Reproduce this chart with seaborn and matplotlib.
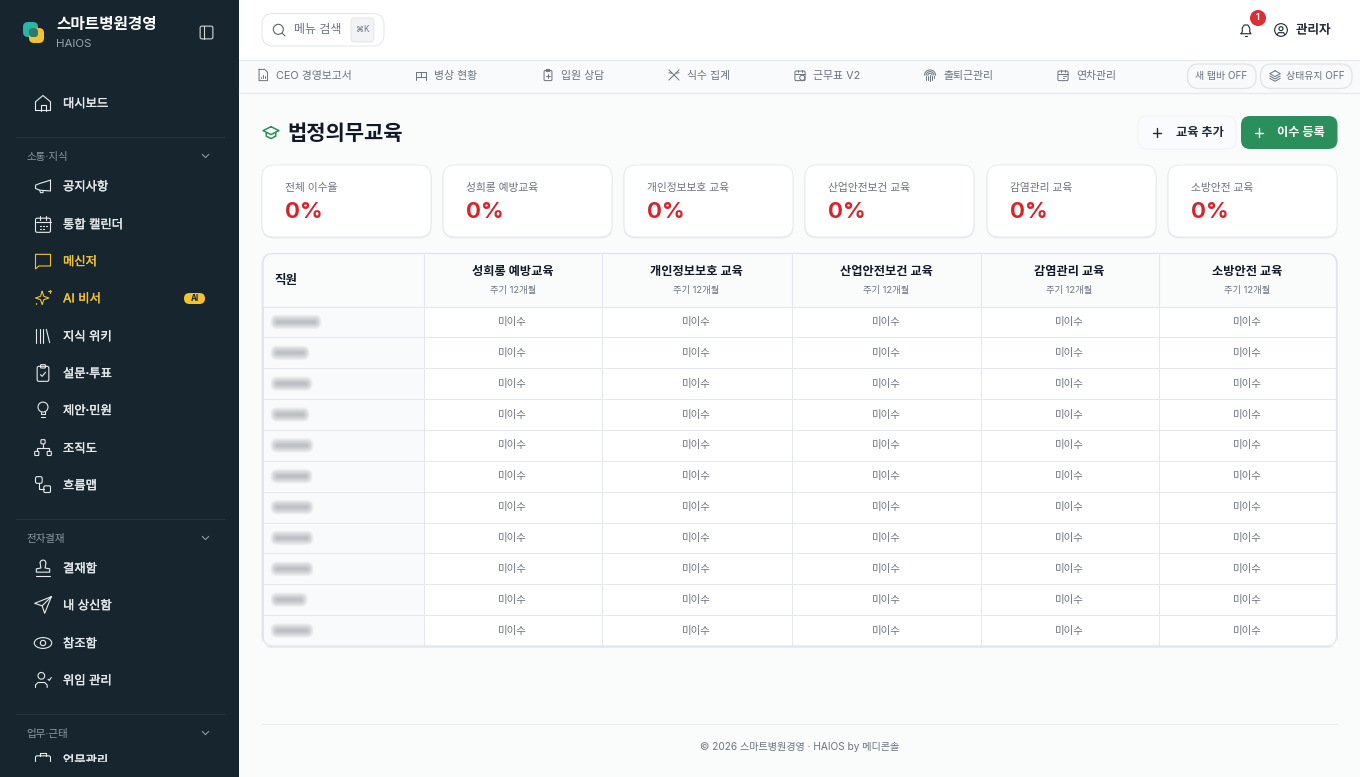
import numpy as np
import matplotlib
matplotlib.use('Agg')
import matplotlib.pyplot as plt
import matplotlib.patheffects as pe
from matplotlib.colors import ListedColormap
from matplotlib.patches import FancyBboxPatch, Rectangle, Circle, Ellipse, Arc
import seaborn as sns

sns.set_theme(style='white')
plt.rcParams['font.family'] = ['Inter', 'Noto Sans CJK KR', 'DejaVu Sans']

# ---- данные экрана ----
brand = '스마트병원경영'
brand_sub = 'HAIOS'
menu_top = ['대시보드']
menu_sections = ['소통·지식', '전자결재', '업무·근태']
menu_talk = ['공지사항', '통합 캘린더', '메신저', 'AI 비서', '지식 위키', '설문·투표', '제안·민원', '조직도', '흐름맵']
menu_sign = ['결재함', '내 상신함', '참조함', '위임 관리']
menu_work = ['업무관리']
tabs = ['CEO 경영보고서', '병상 현황', '입원 상담', '식수 집계', '근무표 V2', '출퇴근관리', '연차관리']
page_title = '법정의무교육'
card_labels = ['전체 이수율', '성희롱 예방교육', '개인정보보호 교육', '산업안전보건 교육', '감염관리 교육', '소방안전 교육']
card_rates = [0, 0, 0, 0, 0, 0]
course_names = ['성희롱 예방교육', '개인정보보호 교육', '산업안전보건 교육', '감염관리 교육', '소방안전 교육']
course_cycle = [12, 12, 12, 12, 12]
# статус по строкам, 0 = 미이수
course_status = [
    [0, 0, 0, 0, 0, 0, 0, 0, 0, 0, 0],
    [0, 0, 0, 0, 0, 0, 0, 0, 0, 0, 0],
    [0, 0, 0, 0, 0, 0, 0, 0, 0, 0, 0],
    [0, 0, 0, 0, 0, 0, 0, 0, 0, 0, 0],
    [0, 0, 0, 0, 0, 0, 0, 0, 0, 0, 0],
]
status_text = '미이수'
name_blur = [42, 30, 33, 30, 34, 33, 34, 34, 34, 28, 34]  # размытые имена, ширина

SIDE = '#17252e'
BG = '#fafbfb'
LINE = '#e4e8ec'
GREEN = '#2a8f5a'
RED = '#d4252c'
GRAY = '#6b7280'
YEL = '#f2c230'
ITEM = '#e6eaec'

fig = plt.figure(figsize=(13.6, 7.77), dpi=100, facecolor=BG)
ax = fig.add_axes([0, 0, 1, 1])
ax.set_xlim(0, 1360)
ax.set_ylim(777, 0)
ax.axis('off')


def px(v):
    return v * 0.72


def txt(a, x, y, s, size, color='#111827', weight='normal', ha='left', z=10, thick=0):
    t = a.text(x, y, s, fontsize=px(size), color=color, weight=weight, ha=ha, va='center', zorder=z)
    if thick:
        t.set_path_effects([pe.withStroke(linewidth=thick, foreground=color)])
    return t


def box(a, x0, y0, x1, y1, r, fc, ec='none', lw=0.7, z=3, alpha=None):
    p = FancyBboxPatch((x0, y0), x1 - x0, y1 - y0, boxstyle=f'round,pad=0,rounding_size={r}',
                       fc=fc, ec=ec, lw=lw, zorder=z, alpha=alpha)
    a.add_patch(p)
    return p


def icon(a, cx, cy, parts, color, size=20, lw=0.8, z=9):
    k = size / 24
    X = lambda v: cx + (v - 12) * k
    Y = lambda v: cy + (v - 12) * k
    for p in parts:
        if p[0] == 'l':
            a.plot([X(q[0]) for q in p[1]], [Y(q[1]) for q in p[1]], color=color, lw=lw, zorder=z,
                   solid_capstyle='round', solid_joinstyle='round')
        elif p[0] == 'c':
            a.add_patch(Circle((X(p[1]), Y(p[2])), p[3] * k, fc='none', ec=color, lw=lw, zorder=z))
        elif p[0] == 'r':
            box(a, X(p[1]), Y(p[2]), X(p[1] + p[3]), Y(p[2] + p[4]), p[5] * k, 'none', color, lw, z)
        elif p[0] == 'e':
            a.add_patch(Ellipse((X(p[1]), Y(p[2])), p[3] * k, p[4] * k, fc='none', ec=color, lw=lw, zorder=z))
        elif p[0] == 'a':
            a.add_patch(Arc((X(p[1]), Y(p[2])), 2 * p[3] * k, 2 * p[3] * k, theta1=p[4], theta2=p[5],
                            color=color, lw=lw, zorder=z))


ICONS = {
    'home': [('l', [(3, 10.5), (12, 3), (21, 10.5), (21, 21), (3, 21), (3, 10.5)]), ('l', [(9, 21), (9, 14), (15, 14), (15, 21)])],
    'mega': [('l', [(21, 5), (21, 18), (8, 17), (3, 15), (3, 11), (8, 9), (21, 5)]), ('l', [(8, 17), (9, 20), (12, 20), (12, 17.5)])],
    'cal': [('r', 3, 5, 18, 17, 2), ('l', [(3, 10), (21, 10)]), ('l', [(8, 2.5), (8, 7)]), ('l', [(16, 2.5), (16, 7)]), ('l', [(8, 14), (9, 14)]), ('l', [(12, 14), (13, 14)]), ('l', [(16, 14), (17, 14)]), ('l', [(8, 18), (9, 18)]), ('l', [(12, 18), (13, 18)])],
    'chat': [('l', [(3, 4), (21, 4), (21, 18), (7, 18), (3, 21.5), (3, 4)])],
    'star': [('l', [(11, 4), (13, 10), (19, 12), (13, 14), (11, 20), (9, 14), (3, 12), (9, 10), (11, 4)]), ('l', [(20, 2), (20, 6)]), ('l', [(18, 4), (22, 4)]), ('l', [(4, 18), (4, 19)])],
    'books': [('l', [(4, 4), (4, 20)]), ('l', [(8, 4), (8, 20)]), ('l', [(12, 4), (12, 20)]), ('l', [(16, 4), (20, 20)])],
    'clip': [('r', 5, 4, 14, 18, 2), ('r', 9, 2, 6, 4, 1), ('l', [(9, 14), (11, 16), (15, 11)])],
    'bulb': [('c', 12, 8.5, 6), ('l', [(9.5, 14), (9.5, 17), (14.5, 17), (14.5, 14)]), ('l', [(10, 20.5), (14, 20.5)])],
    'org': [('r', 9.5, 2, 5, 5, 1), ('r', 2, 16, 5, 5, 1), ('r', 17, 16, 5, 5, 1), ('l', [(12, 7), (12, 12)]), ('l', [(4.5, 16), (4.5, 12), (19.5, 12), (19.5, 16)])],
    'flow': [('r', 3, 2, 8, 8, 2), ('r', 13, 13, 8, 8, 1.5), ('l', [(7, 10), (7, 17), (13, 17)])],
    'stamp': [('a', 12, 6, 3.5, 180, 360), ('l', [(8.5, 6), (9.5, 12), (4, 13), (4, 17), (20, 17), (20, 13), (14.5, 12), (15.5, 6)]), ('l', [(4, 21), (20, 21)])],
    'send': [('l', [(22, 2), (2, 10), (11, 13), (14, 22), (22, 2)]), ('l', [(11, 13), (22, 2)])],
    'eye': [('e', 12, 12, 21, 13), ('c', 12, 12, 3.2)],
    'ucheck': [('c', 10, 7, 4), ('l', [(3, 21), (3, 18), (6, 15), (14, 15), (17, 18), (17, 21)]), ('l', [(18, 11), (19.5, 12.5), (22, 9)])],
    'case': [('r', 3, 7, 18, 14, 2), ('l', [(8, 7), (8, 4), (16, 4), (16, 7)])],
    'chev': [('l', [(6, 9), (12, 15), (18, 9)])],
    'panel': [('r', 3, 3, 18, 18, 2.5), ('l', [(9, 3), (9, 21)])],
    'search': [('c', 11, 11, 7.5), ('l', [(17, 17), (21, 21)])],
    'bell': [('l', [(4, 18), (6, 15), (6, 9), (9, 4), (15, 4), (18, 9), (18, 15), (20, 18), (4, 18)]), ('l', [(10, 21.5), (14, 21.5)])],
    'user': [('c', 12, 12, 9.5), ('c', 12, 10, 3), ('l', [(6.5, 19), (8, 16), (16, 16), (17.5, 19)])],
    'doc': [('l', [(5, 2), (15, 2), (20, 7), (20, 22), (5, 22), (5, 2)]), ('l', [(9, 18), (9, 15)]), ('l', [(12, 18), (12, 12)]), ('l', [(15, 18), (15, 14)])],
    'bed': [('l', [(3, 20), (3, 6), (21, 6), (21, 20)]), ('l', [(3, 15), (21, 15)]), ('l', [(12, 6), (12, 15)])],
    'cplus': [('r', 5, 4, 14, 18, 2), ('r', 9, 2, 6, 4, 1), ('l', [(9, 14), (15, 14)]), ('l', [(12, 11), (12, 17)])],
    'food': [('l', [(3, 3), (21, 21)]), ('l', [(21, 3), (3, 21)]), ('l', [(15, 9), (21, 8)]), ('l', [(3, 8), (9, 9)])],
    'calc': [('r', 3, 5, 18, 17, 2), ('l', [(3, 10), (21, 10)]), ('l', [(8, 2.5), (8, 7)]), ('l', [(16, 2.5), (16, 7)]), ('c', 16, 17, 4.5)],
    'finger': [('a', 12, 13, 10, 180, 360), ('a', 12, 13, 7, 180, 360), ('a', 12, 13, 4, 180, 360), ('l', [(5, 13), (5, 20)]), ('l', [(8, 13), (8, 21)]), ('l', [(12, 12), (12, 22)]), ('l', [(16, 13), (16, 21)]), ('l', [(19, 13), (19, 18)])],
    'layers': [('l', [(12, 3), (21, 8), (12, 13), (3, 8), (12, 3)]), ('l', [(3, 12), (12, 17), (21, 12)]), ('l', [(3, 16), (12, 21), (21, 16)])],
    'cap': [('l', [(12, 4), (22, 9), (12, 14), (2, 9), (12, 4)]), ('l', [(6, 11.5), (6, 16), (12, 19), (18, 16), (18, 11.5)])],
    'plus': [('l', [(5, 12), (19, 12)]), ('l', [(12, 5), (12, 19)])],
}

# ---- фон и сайдбар ----
ax.add_patch(Rectangle((0, 0), 239, 777, fc=SIDE, ec='none', zorder=1))
ax.add_patch(Rectangle((239, 0), 1121, 59.5, fc='white', ec='none', zorder=1))
ax.add_patch(Rectangle((239, 59.5), 1121, 34, fc='#f8fafb', ec='none', zorder=1))
ax.plot([239, 1360], [59.5, 59.5], color=LINE, lw=0.8, zorder=2)
ax.plot([239, 1360], [93, 93], color='#e6eaee', lw=1, zorder=2)

box(ax, 23, 22, 38, 37, 5, '#2bb5a6', z=3)
box(ax, 29, 28, 44, 43, 5, YEL, z=4)
box(ax, 29, 28, 38, 37, 3.5, '#2c7a70', z=5)
txt(ax, 56, 25, brand, 15.7, 'white', 'bold')
txt(ax, 56, 44, brand_sub, 11.5, '#98a6ad')
icon(ax, 206.5, 32.5, ICONS['panel'], '#cfd6da', size=17)

talk_y = [186, 224, 261, 298, 336, 373, 410, 448, 485]
sign_y = [568, 605, 643, 680]
talk_icons = ['mega', 'cal', 'chat', 'star', 'books', 'clip', 'bulb', 'org', 'flow']
sign_icons = ['stamp', 'send', 'eye', 'ucheck']

icon(ax, 43, 103, ICONS['home'], ITEM)
txt(ax, 63, 104.3, menu_top[0], 12.3, ITEM, thick=0.25)
for lab, y, ic in zip(menu_talk + menu_sign + menu_work, talk_y + sign_y + [760], talk_icons + sign_icons + ['case']):
    col = YEL if lab in ('메신저', 'AI 비서') else ITEM
    icon(ax, 43, y, ICONS[ic], col)
    txt(ax, 63, y + 1.3, lab, 12.3, col, thick=0.25)
box(ax, 184, 293, 205, 304, 5.5, YEL, z=6)
txt(ax, 194.5, 298.5, 'AI', 8, SIDE, 'bold', ha='center')

for lab, y, sep in zip(menu_sections, [156, 538, 733], [137, 519, 714]):
    ax.plot([16, 224], [sep, sep], color='#26353e', lw=0.8, zorder=2)
    txt(ax, 26, y + 0.7, lab, 10.5, '#8d9aa1')
    icon(ax, 205.5, y, ICONS['chev'], '#8d9aa1', size=13)
ax.add_patch(Rectangle((0, 762), 239, 15, fc=SIDE, ec='none', zorder=12))

# ---- верхняя панель ----
box(ax, 262, 13.5, 384, 46, 11, 'white', '#e1e5ea')
icon(ax, 279, 30, ICONS['search'], '#5b6470', size=16)
txt(ax, 294, 30.5, '메뉴 검색', 12, GRAY)
box(ax, 351, 18, 374, 42, 4, '#f1f3f6', '#e1e5ea', z=4)
txt(ax, 362.5, 30, '⌘K', 8, GRAY, ha='center')
icon(ax, 1246, 30, ICONS['bell'], '#1f2937', size=15)
ax.add_patch(Circle((1258, 18), 8, fc='#dc2e34', ec='none', zorder=11))
txt(ax, 1258, 18, '1', 9, 'white', 'bold', ha='center', z=12)
icon(ax, 1281, 30, ICONS['user'], '#1f2937', size=16)
txt(ax, 1296, 30.5, '관리자', 12.5, '#1f2937', thick=0.2)

# ---- вкладки ----
tab_x = [276, 434, 561, 687, 813, 943, 1076]
tab_icons = ['doc', 'bed', 'cplus', 'food', 'calc', 'finger', 'cal']
for lab, x, ic in zip(tabs, tab_x, tab_icons):
    icon(ax, x - 13, 75, ICONS[ic], '#69717d', size=13.5, lw=0.7)
    txt(ax, x, 75.5, lab, 10.9, GRAY)
box(ax, 1187.5, 64, 1256, 88.5, 11, '#f8fafb', '#dfe4e9', 0.9)
txt(ax, 1221.5, 76.3, '새 탭바 OFF', 10, GRAY, ha='center')
box(ax, 1260.5, 64, 1352, 88.5, 11, '#f8fafb', '#dfe4e9', 0.9)
icon(ax, 1275, 76, ICONS['layers'], '#69717d', size=14, lw=0.7)
txt(ax, 1286, 76.3, '상태유지 OFF', 10, GRAY)

# ---- заголовок и кнопки ----
icon(ax, 271, 133, ICONS['cap'], GREEN, size=19, lw=1.1)
txt(ax, 287.5, 134.5, page_title, 21, '#111827', 'bold')
box(ax, 1138, 116, 1236, 149, 9, '#fafbfc', '#f0f2f4')
icon(ax, 1157, 132.5, ICONS['plus'], '#1f2937', size=15, lw=1)
txt(ax, 1176, 133, '교육 추가', 12.2, '#1f2937', 'bold')
box(ax, 1241, 116, 1337.5, 149, 9, GREEN)
icon(ax, 1259, 132.5, ICONS['plus'], 'white', size=15, lw=1)
txt(ax, 1277, 133, '이수 등록', 12.2, 'white', 'bold')

# ---- карточки ----
card_x = [262, 443, 624, 805, 987, 1168]
for lab, rate, x in zip(card_labels, card_rates, card_x):
    box(ax, x - 0.5, 166, x + 169.5, 238.5, 12, '#e8ecef', z=2)
    box(ax, x, 165, x + 169, 237, 12, 'white', '#e6eaee')
    txt(ax, x + 23, 187.5, lab, 10.8, GRAY)
    txt(ax, x + 23, 211.5, f'{rate}%', 22.3, RED, 'bold')

# ---- таблица ----
col_edges = [263, 424, 601.5, 791.5, 980.5, 1158.5, 1336.5]
tab_top, head_bot, tab_bot = 253.5, 306.5, 646
box(ax, 261.5, 253, 1338, 648, 11, '#e6ebef', z=2)
table_shape = box(ax, 263, tab_top, 1336.5, tab_bot, 10, BG, 'none', z=3)
for e in col_edges[1:-1]:
    ax.plot([e, e], [tab_top, head_bot], color=LINE, lw=0.8, zorder=4)
ax.plot([263, 1336.5], [head_bot, head_bot], color=LINE, lw=0.8, zorder=4)
txt(ax, 274.5, 281, '직원', 12.5, '#111827', 'bold')
for i, (name, cyc) in enumerate(zip(course_names, course_cycle)):
    mid = (col_edges[i + 1] + col_edges[i + 2]) / 2
    txt(ax, mid, 271.5, name, 12.2, '#111827', 'bold', ha='center')
    txt(ax, mid, 290, f'주기 {cyc}개월', 9.3, GRAY, ha='center')


def pos(x0, x1, y0, y1):
    return [x0 / 1360, 1 - y1 / 777, (x1 - x0) / 1360, (y1 - y0) / 777]


# столбцы разной ширины, поэтому каждый - свой heatmap
name_ax = fig.add_axes(pos(col_edges[0], col_edges[1], head_bot, tab_bot))
sns.heatmap(np.zeros((len(name_blur), 1)), ax=name_ax, cmap=ListedColormap(['#f9fafb']), vmin=0, vmax=1,
            cbar=False, xticklabels=False, yticklabels=False, linewidths=0.7, linecolor=LINE)
name_ax.collections[0].set_clip_path(table_shape)
for i, stat in enumerate(course_status):
    cax = fig.add_axes(pos(col_edges[i + 1], col_edges[i + 2], head_bot, tab_bot))
    grid = np.array(stat).reshape(-1, 1)
    labels = np.array([[status_text] for _ in stat])
    sns.heatmap(grid, ax=cax, cmap=ListedColormap(['white']), vmin=0, vmax=1, cbar=False,
                annot=labels, fmt='', annot_kws={'fontsize': px(10.5), 'color': GRAY},
                xticklabels=False, yticklabels=False, linewidths=0.7, linecolor=LINE)
    cax.collections[0].set_clip_path(table_shape)

# верхний слой: размытые имена и рамка
top = fig.add_axes([0, 0, 1, 1], facecolor='none')
top.set_xlim(0, 1360)
top.set_ylim(777, 0)
top.axis('off')
row_h = (tab_bot - head_bot) / len(name_blur)
for i, w in enumerate(name_blur):
    yc = head_bot + row_h * (i + 0.5)
    for g in np.linspace(5, -2.5, 20):
        box(top, 275 - g, yc - 2.5 - g, 275 + w + g, yc + 2.5 + g, max(g, 0) + 2.5, '#8a9096', z=5, alpha=0.035)
box(top, 263, tab_top, 1336.5, tab_bot, 10, 'none', '#dfe5ea', 0.9, z=6)

# ---- подвал ----
ax.plot([262, 1337], [724, 724], color='#e9ecef', lw=0.8, zorder=2)
txt(ax, 800, 747.5, '© 2026 스마트병원경영 · HAIOS by 메디콘솔', 10.1, GRAY, ha='center')

fig.savefig('out.png', dpi=100, facecolor=BG)
